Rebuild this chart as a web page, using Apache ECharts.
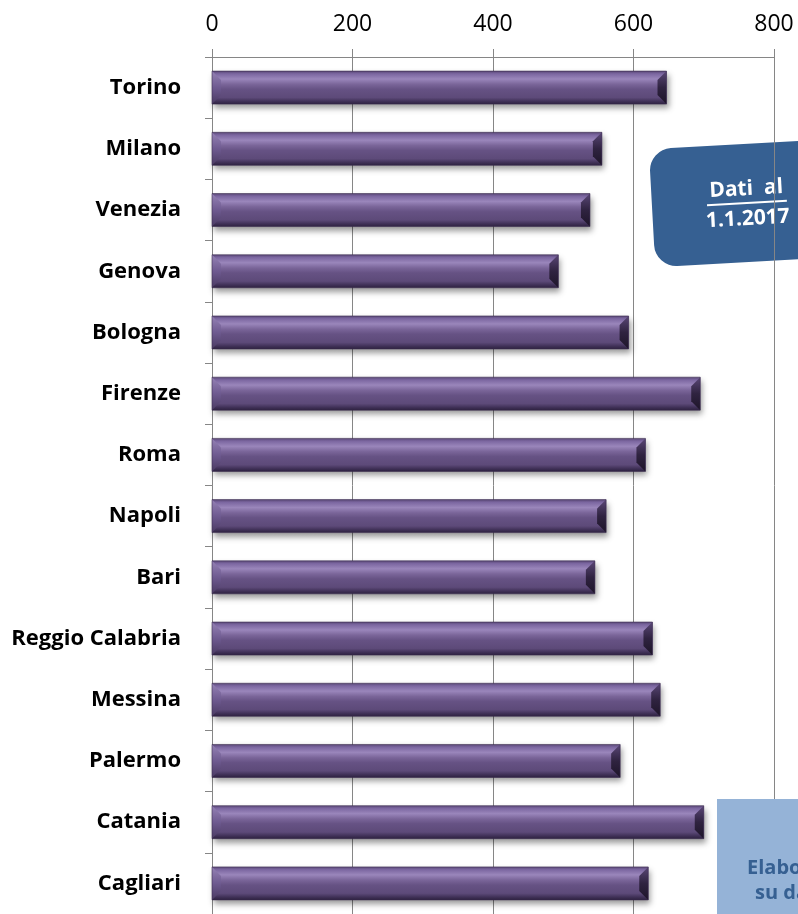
<!DOCTYPE html>
<html>
<head>
<meta charset="utf-8">
<script src="https://cdn.jsdelivr.net/npm/echarts@6/dist/echarts.min.js"></script>
<style>
html,body{margin:0;padding:0;background:#fff;}
#chart{width:798px;height:914px;}
</style>
</head>
<body>
<div id="chart"></div>
<script>
const cities = ['Torino','Milano','Venezia','Genova','Bologna','Firenze','Roma','Napoli','Bari','Reggio Calabria','Messina','Palermo','Catania','Cagliari'];
const values = [647, 555, 538, 493, 593, 695, 617, 561, 545, 627, 638, 581, 700, 621];
const xTicks = [0, 200, 400, 600, 800];
const calloutLines = ['Dati  al', '1.1.2017'];
const sourceLines = ['Elaborazione', 'su dati Istat'];

const chart = echarts.init(document.getElementById('chart'), null, {renderer: 'canvas'});
const FONT = '"Open Sans", "Liberation Sans", sans-serif';

const barGrad = new echarts.graphic.LinearGradient(0, 0, 0, 1, [
  {offset: 0, color: '#5a4877'},
  {offset: 0.08, color: '#7b66a0'},
  {offset: 0.24, color: '#9a86bb'},
  {offset: 0.4, color: '#7a6599'},
  {offset: 0.55, color: '#665284'},
  {offset: 0.8, color: '#5d4a79'},
  {offset: 0.92, color: '#3f3056'},
  {offset: 1, color: '#2e2240'}
]);

function renderBar(params, api) {
  const v = api.value(0);
  const c = api.value(1);
  const s = api.coord([0, c]);
  const e = api.coord([v, c]);
  const h = 33;
  const y0 = s[1] - h / 2, y1 = s[1] + h / 2;
  const x0 = s[0], x1 = e[0];
  const b = 9;
  return {
    type: 'group',
    children: [
      {type: 'rect', shape: {x: x0, y: y0, width: x1 - x0, height: h},
       style: {fill: barGrad, shadowColor: 'rgba(0,0,0,0.4)', shadowBlur: 6, shadowOffsetX: 2, shadowOffsetY: 4}},
      {type: 'polygon', shape: {points: [[x0, y0], [x0 + b, y0 + b], [x0 + b, y1 - b], [x0, y1]]},
       style: {fill: new echarts.graphic.LinearGradient(0, 0, 0, 1, [
         {offset: 0, color: '#9582b5'}, {offset: 0.5, color: '#6e5a90'}, {offset: 1, color: '#4a3a62'}])}},
      {type: 'polygon', shape: {points: [[x1, y0], [x1 - b, y0 + b], [x1 - b, y1 - b], [x1, y1]]},
       style: {fill: new echarts.graphic.LinearGradient(0, 0, 0, 1, [
         {offset: 0, color: '#5a4776'}, {offset: 0.5, color: '#2f2340'}, {offset: 1, color: '#1e1529'}])}},
      {type: 'rect', shape: {x: x0, y: y0, width: x1 - x0, height: h},
       style: {fill: 'none', stroke: 'rgba(60,45,80,0.6)', lineWidth: 1}}
    ]
  };
}

const option = {
  backgroundColor: '#fff',
  animation: false,
  grid: {left: 212, right: 24, top: 57, bottom: -4, containLabel: false},
  xAxis: {
    type: 'value', position: 'top', min: xTicks[0], max: xTicks[xTicks.length - 1], interval: 200,
    axisLine: {show: true, lineStyle: {color: '#868686', width: 1}},
    axisTick: {show: true, inside: false, length: 8, lineStyle: {color: '#868686'}},
    axisLabel: {fontSize: 23, color: '#000', fontFamily: FONT, margin: 21},
    splitLine: {show: true, lineStyle: {color: '#868686', width: 1}}
  },
  yAxis: {
    type: 'category', data: cities, inverse: true,
    axisLine: {show: true, lineStyle: {color: '#868686', width: 1}},
    axisTick: {show: true, length: 7, lineStyle: {color: '#868686'}},
    axisLabel: {fontSize: 22, fontWeight: 'bold', color: '#000', fontFamily: FONT, margin: 31},
    splitLine: {show: false}
  },
  series: [{
    type: 'custom',
    renderItem: renderBar,
    encode: {x: 0, y: 1},
    data: values.map((v, i) => [v, i]),
    z: 5
  }],
  graphic: [
    {
      type: 'group', x: 747, y: 204, rotation: 0.055, z: 100,
      children: [
        {type: 'rect', shape: {x: -95, y: -60, width: 200, height: 118, r: 22}, style: {fill: '#366092'}},
        {type: 'text', x: 0, y: -15, style: {text: calloutLines[0], fill: '#fff', font: 'bold 21px ' + FONT, align: 'center', verticalAlign: 'middle'}},
        {type: 'line', shape: {x1: -40, y1: -1, x2: 40, y2: -1}, style: {stroke: '#fff', lineWidth: 2}},
        {type: 'text', x: 0, y: 15, style: {text: calloutLines[1], fill: '#fff', font: 'bold 21px ' + FONT, align: 'center', verticalAlign: 'middle'}}
      ]
    },
    {type: 'rect', z: 100, shape: {x: 717, y: 799, width: 120, height: 130}, style: {fill: '#95b3d7'}},
    {type: 'text', z: 101, x: 747, y: 868, style: {text: sourceLines[0], fill: '#366092', font: 'bold 20px ' + FONT, align: 'left', verticalAlign: 'middle'}},
    {type: 'text', z: 101, x: 755, y: 893, style: {text: sourceLines[1], fill: '#366092', font: 'bold 20px ' + FONT, align: 'left', verticalAlign: 'middle'}}
  ]
};
chart.setOption(option);
</script>
</body>
</html>
